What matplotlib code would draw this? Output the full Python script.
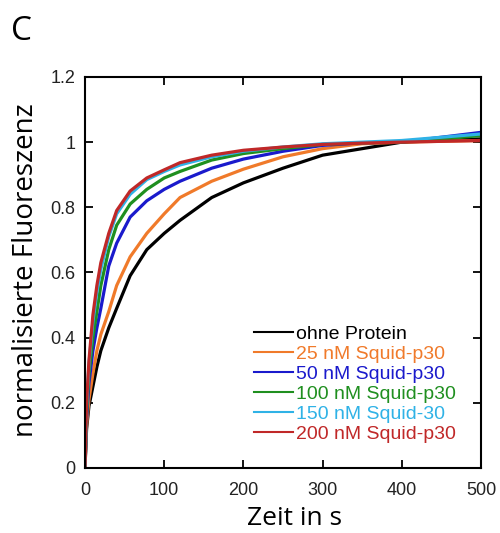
import matplotlib
matplotlib.use("Agg")
import matplotlib.pyplot as plt

# time points (s)
zeit = [0, 2, 5, 10, 15, 20, 30, 40, 57, 78, 100, 120, 160, 200, 250, 300, 350, 400, 500]

# normalised fluorescence per condition
ohne_protein = [0, 0.12, 0.19, 0.25, 0.31, 0.36, 0.43, 0.49, 0.59, 0.67, 0.72, 0.76, 0.83, 0.875, 0.92, 0.96, 0.98, 1.0, 1.01]
nm_25 = [0, 0.13, 0.21, 0.29, 0.36, 0.41, 0.48, 0.56, 0.648, 0.72, 0.78, 0.83, 0.88, 0.917, 0.955, 0.98, 0.995, 1.0, 1.005]
nm_50 = [0, 0.15, 0.26, 0.36, 0.43, 0.49, 0.62, 0.69, 0.77, 0.82, 0.855, 0.88, 0.92, 0.948, 0.972, 0.99, 0.998, 1.0, 1.03]
nm_100 = [0, 0.17, 0.29, 0.40, 0.48, 0.56, 0.67, 0.745, 0.81, 0.855, 0.89, 0.91, 0.945, 0.965, 0.98, 0.993, 0.998, 1.0, 1.02]
nm_150 = [0, 0.19, 0.32, 0.45, 0.54, 0.61, 0.71, 0.78, 0.84, 0.885, 0.91, 0.93, 0.955, 0.972, 0.985, 0.995, 1.0, 1.005, 1.025]
nm_200 = [0, 0.2, 0.33, 0.47, 0.56, 0.63, 0.72, 0.79, 0.85, 0.89, 0.915, 0.937, 0.96, 0.975, 0.985, 0.993, 0.997, 1.0, 1.005]

labels = ["ohne Protein", "25 nM Squid-p30", "50 nM Squid-p30",
          "100 nM Squid-p30", "150 nM Squid-30", "200 nM Squid-p30"]
colors = ["#000000", "#f07a2a", "#1a1acc", "#1f8f1f", "#2fb2e6", "#c02828"]
series = [ohne_protein, nm_25, nm_50, nm_100, nm_150, nm_200]

fig = plt.figure(figsize=(5, 5.33), dpi=100)
ax = fig.add_axes([0.17, 0.122, 0.792, 0.7336])

for vals, lab, col in zip(series, labels, colors):
    ax.plot(zeit, vals, color=col, lw=2.3, label=lab)

ax.set_xlim(0, 500)
ax.set_ylim(0, 1.2)
ax.set_xticks([0, 100, 200, 300, 400, 500])
ax.set_yticks([0, 0.2, 0.4, 0.6, 0.8, 1.0, 1.2])
ax.set_yticklabels(["0", "0.2", "0.4", "0.6", "0.8", "1", "1.2"])

ax.tick_params(direction="in", top=True, right=True, length=6, width=1.3,
               labelsize=13, pad=7)
ax.tick_params(axis="x", pad=10)
for lbl in ax.get_xticklabels() + ax.get_yticklabels():
    lbl.set_family("Liberation Sans")
    lbl.set_color("#222222")
for sp in ax.spines.values():
    sp.set_linewidth(1.5)

ax.set_xlabel("Zeit in s", fontsize=19, family="Open Sans", labelpad=3)
ax.xaxis.set_label_coords(0.53, -0.098)
ax.set_ylabel("normalisierte Fluoreszenz", fontsize=20, family="Open Sans", labelpad=2)
ax.yaxis.set_label_coords(-0.114, 0.505)

leg = ax.legend(loc="lower right", bbox_to_anchor=(0.96, 0.04), frameon=False,
                handlelength=2.0, handletextpad=0.15, labelspacing=0.12,
                borderpad=0, prop={"family": "Liberation Sans", "size": 14},
                labelcolor="linecolor")
for h in leg.get_lines():
    h.set_linewidth(1.5)

fig.text(0.022, 0.925, "C", fontsize=24, family="Open Sans")

fig.savefig("out.png", dpi=100)
